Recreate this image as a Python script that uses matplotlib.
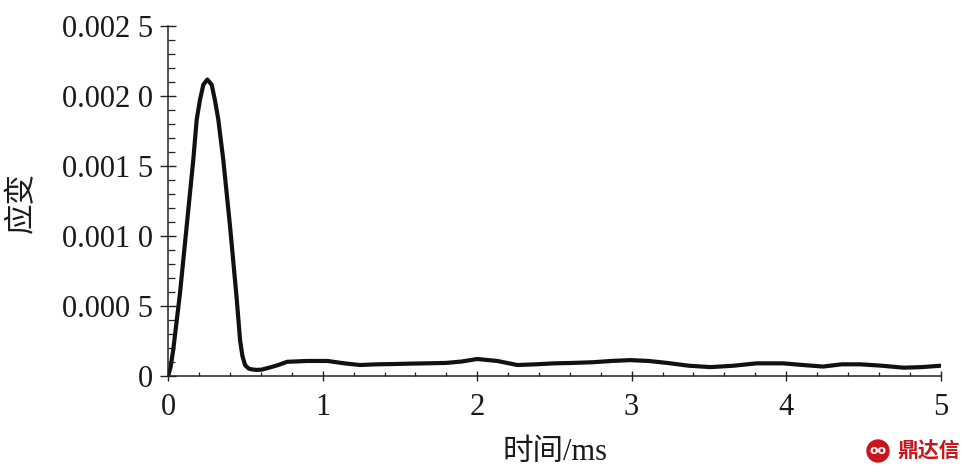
import matplotlib
matplotlib.use("Agg")
import matplotlib.pyplot as plt
from matplotlib.patches import Ellipse


# ----- données -----
temps = [0, 0.015, 0.032, 0.076, 0.119, 0.162, 0.184, 0.205, 0.227, 0.253,
         0.281, 0.302, 0.324, 0.356, 0.40, 0.443, 0.465, 0.48, 0.497, 0.52,
         0.54, 0.572, 0.605, 0.65, 0.712, 0.77, 0.9, 1.03, 1.14, 1.24,
         1.35, 1.46, 1.57, 1.67, 1.80, 1.90, 2.0, 2.13, 2.26, 2.38,
         2.50, 2.62, 2.75, 2.87, 2.99, 3.11, 3.23, 3.37, 3.51, 3.66,
         3.81, 3.98, 4.11, 4.24, 4.36, 4.48, 4.62, 4.76, 4.88, 5.0]   # ms

strain = [0, 0.00006, 0.000183, 0.00059, 0.001066, 0.001544, 0.00183, 0.00197, 0.00208, 0.002117,
          0.00208, 0.00197, 0.00183, 0.001544, 0.001066, 0.00055, 0.00025, 0.00014, 0.000075, 0.00005,
          0.000044, 0.00004, 0.000042, 0.000055, 0.000075, 0.000098, 0.000104, 0.000104, 0.000087, 0.000075,
          0.00008, 0.000082, 0.000085, 0.000087, 0.00009, 0.0001, 0.000118, 0.000104, 0.000075, 0.00008,
          0.000087, 0.00009, 0.000095, 0.000104, 0.00011, 0.000104, 0.00009, 0.00007, 0.00006, 0.00007,
          0.000087, 0.000087, 0.000075, 0.000064, 0.00008, 0.00008, 0.00007, 0.000056, 0.00006, 0.00007]

yticks = [0, 0.0005, 0.0010, 0.0015, 0.0020, 0.0025]
ytick_labels = ["0", "0.000 5", "0.001 0", "0.001 5", "0.002 0", "0.002 5"]
xticks = [0, 1, 2, 3, 4, 5]


plt.rcParams['font.family'] = ['Liberation Serif', 'Noto Sans CJK SC']
plt.rcParams['font.size'] = 22

fig = plt.figure(figsize=(9.71, 4.74), dpi=100)
ax = fig.add_axes([0.1733, 0.2078, 0.7953, 0.7374])

ax.plot(temps, strain, color="#111111", lw=3.0, solid_joinstyle="round", solid_capstyle="round")

ax.set_xlim(0, 5)
ax.set_ylim(0, 0.0025)
ax.set_xticks(xticks)
ax.set_xticks([v / 5 for v in range(26)], minor=True)
ax.set_yticks(yticks, ytick_labels)
ax.set_yticks([v / 10000 for v in range(26)], minor=True)

for s in ["top", "right"]:
    ax.spines[s].set_visible(False)
for s in ["left", "bottom"]:
    ax.spines[s].set_linewidth(1.1)
    ax.spines[s].set_color("#222222")

ax.tick_params(axis="y", which="major", direction="inout", length=12, width=1.0, pad=4.8, colors="#222222")
ax.tick_params(axis="y", which="minor", direction="in", length=5, width=0.9, colors="#222222")
ax.tick_params(axis="x", which="major", direction="inout", length=7, width=1.0, pad=9.0, colors="#222222")
ax.tick_params(axis="x", which="minor", direction="in", length=3, width=0.9, colors="#222222")
ax.tick_params(labelcolor="#1a1a1a")

ax.set_xlabel("时间/ms", color="#1a1a1a", fontsize=22)
ax.set_ylabel("应变", color="#1a1a1a", fontsize=22)
ax.xaxis.label.set_verticalalignment("center")
ax.yaxis.label.set_verticalalignment("center")
ax.xaxis.set_label_coords(0.5008, -0.219)
ax.yaxis.set_label_coords(-0.1895, 0.494)

# ----- filigrane -----
fig.add_artist(Ellipse((878 / 971, 1 - 451 / 474), 22 / 971, 22 / 474,
                       transform=fig.transFigure, color="#c8161d"))
fig.text(878 / 971, 1 - 451 / 474, "oo", color="white", fontsize=9, fontweight="bold",
         ha="center", va="center", family=["DejaVu Sans"])
fig.text(929 / 971, 1 - 451 / 474, "鼎达信", color="#c8161d", fontsize=15, fontweight="bold",
         ha="center", va="center", family=["Noto Sans CJK SC"])

fig.savefig("out.png", dpi=100)
